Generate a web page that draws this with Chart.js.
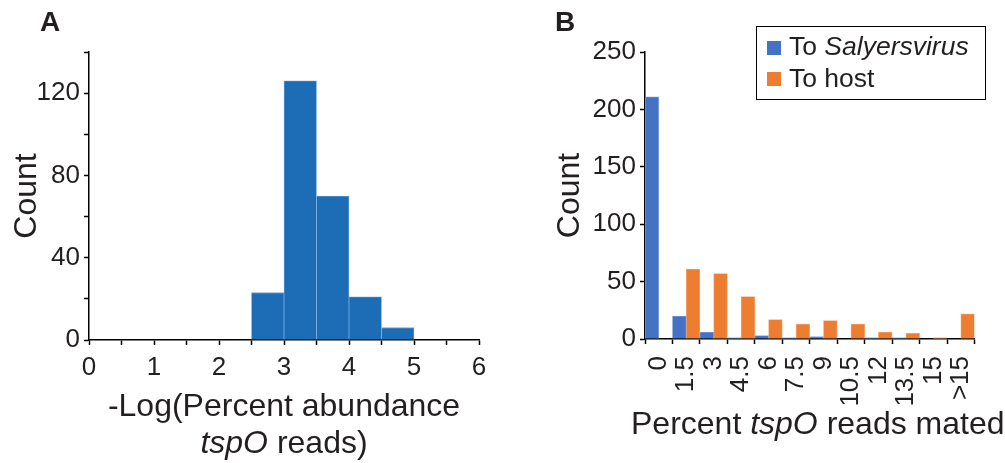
<!DOCTYPE html>
<html>
<head>
<meta charset="utf-8">
<script src="https://cdn.jsdelivr.net/npm/chart.js@4.4.1/dist/chart.umd.min.js"></script>
<style>
  body { margin: 0; background: #fff; width: 1005px; height: 463px; overflow: hidden; position: relative;
         font-family: 'Liberation Sans', Arial, sans-serif; color: #231f20; }
  .panel { position: absolute; top: 0; }
  .txt { position: absolute; white-space: nowrap; }
  .letter { font-weight: bold; font-size: 28px; line-height: 28px; }
  .xtitle { font-size: 32px; line-height: 37px; }
  .legend { position: absolute; left: 756px; top: 26px; width: 228px; height: 72px; border: 1.5px solid #000; }
  .sw { position: absolute; width: 14px; height: 14px; }
  .lg { position: absolute; font-size: 26.5px; line-height: 30px; white-space: nowrap; }
</style>
</head>
<body>
<div class="panel" style="left:0"><canvas id="chartA" width="500" height="463"></canvas></div>
<div class="panel" style="left:505px"><canvas id="chartB" width="500" height="463"></canvas></div>

<div class="txt letter" style="left:40px; top:8px">A</div>
<div class="txt letter" style="left:555px; top:8px">B</div>

<div class="txt xtitle" style="left:89px; width:390px; top:387px; text-align:center">-Log(Percent abundance<br><i>tspO</i> reads)</div>
<div class="txt xtitle" style="left:631px; top:405px">Percent <i>tspO</i> reads mated</div>

<div class="legend">
  <div class="sw" style="left:10px; top:14px; background:#4472c4"></div>
  <div class="lg" style="left:32px; top:4px">To <i>Salyersvirus</i></div>
  <div class="sw" style="left:10px; top:45px; background:#ed7d31"></div>
  <div class="lg" style="left:32px; top:36px">To host</div>
</div>

<script>
// Panel A: histogram of -log(percent abundance)
var binStarts = [0, 0.5, 1, 1.5, 2, 2.5, 3, 3.5, 4, 4.5, 5, 5.5];
var binWidth = 0.5;
var abundanceCounts = [0, 0, 0, 0, 0, 23, 126, 70, 21, 6, 0, 0];

// Panel B: percent tspO reads mated
var matedLabels = ['0', '1.5', '3', '4.5', '6', '7.5', '9', '10.5', '12', '13.5', '15', '>15'];
var toVirus = [211, 20, 6, 1, 3, 1, 2, 0, 1, 1, 0, 0];
var toHost = [0, 61, 57, 37, 17, 13, 16, 13, 6, 5, 1, 22];

var textColor = '#231f20';
var tickFont = { family: 'Liberation Sans', size: 26 };
var titleFont = { family: 'Liberation Sans', size: 32 };

function axisLook(extra) {
	var o = {
		border : { display : true, color : '#000', width : 1.5 },
		grid : { drawOnChartArea : false, drawTicks : true, tickLength : 5, tickWidth : 1.5, tickColor : '#000' },
		ticks : { color : textColor, font : tickFont }
	};
	for (var k in extra) {
		if (typeof extra[k] === 'object' && o[k]) {
			for (var j in extra[k]) o[k][j] = extra[k][j];
		} else {
			o[k] = extra[k];
		}
	}
	return o;
}

var histData = binStarts.map(function(s, i) {
	return { x : s + binWidth / 2, y : abundanceCounts[i] };
});

new Chart(document.getElementById('chartA').getContext('2d'), {
	type : 'bar',
	data : {
		datasets : [ {
			data : histData,
			backgroundColor : '#1c6db5',
			borderColor : '#6fa6dc',
			borderWidth : 0.8,
			barPercentage : 1,
			categoryPercentage : 1
		} ]
	},
	options : {
		responsive : false,
		animation : false,
		layout : { padding : { top : 52, right : 21, left : 0, bottom : 0 } },
		plugins : { legend : { display : false }, tooltip : { enabled : false } },
		scales : {
			x : axisLook({
				type : 'linear',
				min : 0,
				max : 6,
				offset : false,
				grid : { offset : false },
				ticks : { stepSize : 0.5, padding : 7, maxRotation : 0, autoSkip : false,
					callback : function(v) { return Number.isInteger(v) ? v : ''; } },
				afterFit : function(s) { s.height = 123; }
			}),
			y : axisLook({
				min : 0,
				max : 140,
				ticks : { stepSize : 20, padding : 4,
					callback : function(v) { return v % 40 === 0 ? v : ''; } },
				title : { display : true, text : 'Count', color : textColor, font : titleFont, padding : { top : 8, bottom : 0 } },
				afterFit : function(s) { s.width = 89; }
			})
		}
	}
});

new Chart(document.getElementById('chartB').getContext('2d'), {
	type : 'bar',
	data : {
		labels : matedLabels,
		datasets : [ {
			label : 'To Salyersvirus',
			data : toVirus,
			backgroundColor : '#4472c4',
			borderColor : '#8aa6dc',
			borderWidth : 0.8,
			barPercentage : 1,
			categoryPercentage : 1
		}, {
			label : 'To host',
			data : toHost,
			backgroundColor : '#ed7d31',
			borderColor : '#f5ac7a',
			borderWidth : 0.8,
			barPercentage : 1,
			categoryPercentage : 1
		} ]
	},
	options : {
		responsive : false,
		animation : false,
		layout : { padding : { top : 52, right : 24, left : 0, bottom : 0 } },
		plugins : { legend : { display : false }, tooltip : { enabled : false } },
		scales : {
			x : axisLook({
				ticks : { minRotation : 90, maxRotation : 90, autoSkip : false, padding : 12 },
				afterFit : function(s) { s.height = 124; }
			}),
			y : axisLook({
				min : 0,
				max : 250,
				ticks : { stepSize : 50, padding : 4 },
				title : { display : true, text : 'Count', color : textColor, font : titleFont, padding : { top : 46, bottom : 0 } },
				afterFit : function(s) { s.width = 140; }
			})
		}
	}
});
</script>
</body>
</html>
